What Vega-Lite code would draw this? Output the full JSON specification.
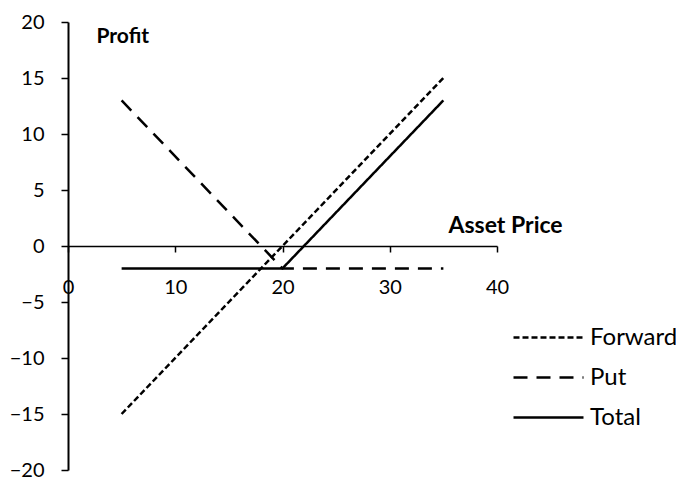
{
  "$schema": "https://vega.github.io/schema/vega-lite/v6.json",
  "autosize": "none",
  "width": 429,
  "height": 448,
  "padding": {"left": 68, "top": 22, "right": 179, "bottom": 9},
  "background": "white",
  "config": {
    "view": {"stroke": null},
    "font": "Lato",
    "axis": {"grid": false, "domainColor": "black", "tickColor": "black", "labelColor": "black", "titleColor": "black", "labelFont": "Lato", "titleFont": "Lato"}
  },
  "data": {
    "values": [
      {"series": "Forward", "price": 5, "profit": -15},
      {"series": "Forward", "price": 35, "profit": 15},
      {"series": "Put", "price": 5, "profit": 13},
      {"series": "Put", "price": 20, "profit": -2},
      {"series": "Put", "price": 35, "profit": -2},
      {"series": "Total", "price": 5, "profit": -2},
      {"series": "Total", "price": 20, "profit": -2},
      {"series": "Total", "price": 35, "profit": 13}
    ]
  },
  "mark": {"type": "line", "strokeWidth": 2.5, "color": "black"},
  "encoding": {
    "x": {
      "field": "price", "type": "quantitative",
      "scale": {"domain": [0, 40], "nice": false, "zero": false},
      "axis": {
        "values": [0, 10, 20, 30, 40], "offset": -224, "domainWidth": 1.5, "tickWidth": 1.5, "tickSize": 6,
        "labelFontSize": 20, "labelPadding": 25, "labelFlush": false,
        "title": "Asset Price", "titleFontSize": 23, "titleFontWeight": "bold",
        "titleX": 380, "titleY": -14, "titleAlign": "left", "titleBaseline": "alphabetic", "titleAnchor": null
      }
    },
    "y": {
      "field": "profit", "type": "quantitative",
      "scale": {"domain": [-20, 20], "nice": false},
      "axis": {
        "values": [-20, -15, -10, -5, 0, 5, 10, 15, 20], "domainWidth": 2, "tickWidth": 1.5, "tickSize": 7,
        "labelFontSize": 20, "labelPadding": 17, "labelFlush": false,
        "title": "Profit", "titleFontSize": 21, "titleFontWeight": "bold", "titleAngle": 0,
        "titleX": 28, "titleY": 20, "titleAlign": "left", "titleBaseline": "alphabetic", "titleAnchor": null
      }
    },
    "strokeDash": {
      "field": "series", "type": "nominal",
      "scale": {"domain": ["Forward", "Put", "Total"], "range": [[6, 3], [14, 9], [1, 0]]},
      "legend": {
        "title": null, "orient": "none", "legendX": 465, "legendY": 300,
        "symbolType": "M-2.5,0H2.5", "symbolSize": 784, "symbolStrokeWidth": 2.5, "symbolStrokeColor": "black",
        "labelFontSize": 24, "labelColor": "black", "labelOffset": 26, "rowPadding": 12
      }
    }
  }
}
